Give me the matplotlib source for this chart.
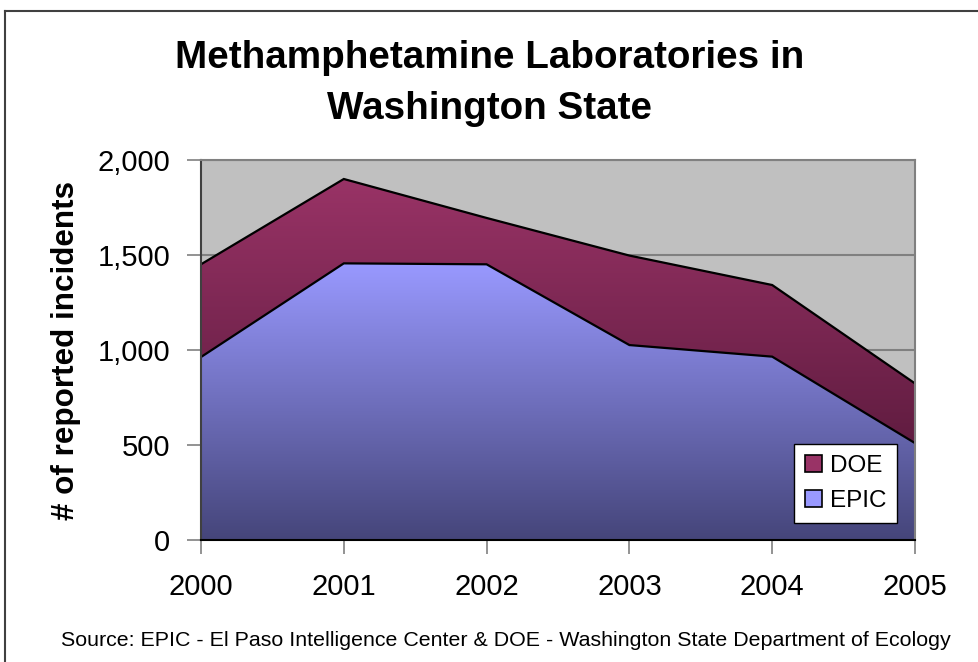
import matplotlib
matplotlib.use("Agg")
import matplotlib.pyplot as plt
import numpy as np
from matplotlib.colors import LinearSegmentedColormap
from matplotlib.patches import Patch
from matplotlib.lines import Line2D

years = ["2000", "2001", "2002", "2003", "2004", "2005"]
epic = [963, 1456, 1451, 1026, 965, 510]
doe = [488, 444, 244, 471, 377, 314]
yticks = [0, 500, 1000, 1500, 2000]
ytick_labels = ["0", "500", "1,000", "1,500", "2,000"]

plt.rcParams['font.family'] = ['Liberation Sans', 'DejaVu Sans']

fig = plt.figure(figsize=(9.79, 6.62), dpi=100)
ax = fig.add_axes([201/979, 1-540/662, (915-201)/979, (540-160)/662])
ax.set_facecolor("#C0C0C0")

x = np.arange(len(years))
epic_a = np.array(epic, dtype=float)
total = epic_a + np.array(doe, dtype=float)

def grad_fill(xs, lo, hi, c_top, c_bot, z):
    poly = ax.fill_between(xs, lo, hi, facecolor="none", edgecolor="none", zorder=z)
    cmap = LinearSegmentedColormap.from_list("g", [c_bot, c_top])
    ymin, ymax = 0, hi.max()
    grad = np.linspace(0, 1, 256).reshape(-1, 1)
    im = ax.imshow(grad, cmap=cmap, aspect="auto", origin="lower",
                   extent=[xs[0], xs[-1], ymin, ymax], zorder=z, interpolation="bilinear")
    path = poly.get_paths()[0]
    im.set_clip_path(path, transform=ax.transData)
    ax.plot(xs, hi, color="black", lw=1.6, zorder=z + 0.5, solid_joinstyle="miter")

for v in yticks[1:]:
    ax.axhline(v, color="#808080", lw=1.5, zorder=0.5)

grad_fill(x, epic_a, total, "#993366", "#4c1433", 2)
grad_fill(x, np.zeros_like(epic_a), epic_a, "#9999FF", "#45457a", 3)

ax.set_xlim(0, len(years) - 1)
ax.set_ylim(0, 2000)
ax.set_xticks(x)
ax.set_xticklabels(years, fontsize=21)
ax.set_yticks(yticks)
ax.set_yticklabels(ytick_labels, fontsize=21)
ax.tick_params(axis="both", direction="out", length=10, width=1.2, color="#808080", pad=12)
ax.tick_params(axis="x", pad=14)

for s in ["top", "right"]:
    ax.spines[s].set_color("#808080")
    ax.spines[s].set_linewidth(1.5)
ax.spines["left"].set_color("#404040")
ax.spines["left"].set_linewidth(1.5)
ax.spines["bottom"].set_color("black")
ax.spines["bottom"].set_linewidth(1.5)
for s in ax.spines.values():
    s.set_zorder(5)

ax.set_ylabel("# of reported incidents", fontsize=22.6, fontweight="bold", labelpad=12)

handles = [Patch(facecolor="#993366", edgecolor="black", lw=1.2, label="DOE"),
           Patch(facecolor="#9999FF", edgecolor="black", lw=1.2, label="EPIC")]
leg = ax.legend(handles=handles, loc="lower right", bbox_to_anchor=(0.975, 0.045),
                fontsize=17.5, frameon=True, fancybox=False, edgecolor="black",
                facecolor="white", framealpha=1,
                handlelength=0.7, handleheight=0.7, handletextpad=0.3,
                labelspacing=0.55, borderpad=0.45, borderaxespad=0)
leg.get_frame().set_linewidth(1.0)
leg.set_zorder(10)

fig.text(0.5, 1-58/662, "Methamphetamine Laboratories in", ha="center", va="center",
         fontsize=27.8, fontweight="bold")
fig.text(0.5, 1-109/662, "Washington State", ha="center", va="center",
         fontsize=27.8, fontweight="bold")
fig.text(506/979, 1-640/662,
         "Source: EPIC - El Paso Intelligence Center & DOE - Washington State Department of Ecology",
         ha="center", va="center", fontsize=15.4)

fig.add_artist(Line2D([5/979, 5/979], [0, 1-11/662], color="#404040", lw=1.5))
fig.add_artist(Line2D([5/979, 1], [1-11/662, 1-11/662], color="#404040", lw=1.5))

fig.savefig("out.png", dpi=100)
